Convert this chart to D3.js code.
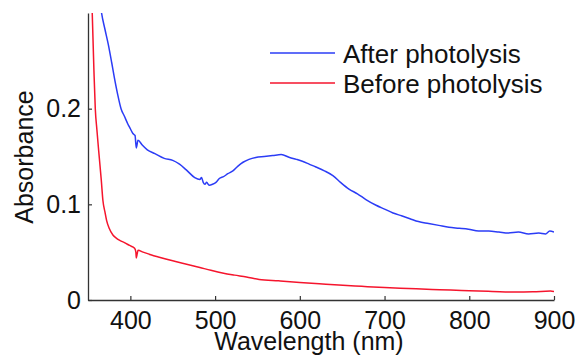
<!DOCTYPE html>
<html>
<head>
<meta charset="utf-8">
<script src="https://cdn.jsdelivr.net/npm/d3@7"></script>
<style>
  body { margin: 0; background: #fff; }
  #chart { width: 579px; height: 362px; }
  text { font-family: "Liberation Sans", Arial, Helvetica, sans-serif; fill: #111; }
</style>
</head>
<body>
<div id="chart"></div>
<script>
// after photolysis (blue)
const afterWl = [362, 366, 370, 374, 378, 381, 385, 389, 393, 397, 400, 403, 405.5, 407, 409, 414, 420, 429, 440, 450, 458, 466, 476,
  482, 484, 486, 488, 490, 493, 497, 501, 505, 510, 515, 521, 527, 533, 540, 548, 558, 568, 578, 588,
  596, 603, 611, 619, 629, 639, 648, 658, 668, 678, 690, 700, 710, 720, 730, 740, 752, 764, 776, 788,
  799, 811, 823, 835, 846, 858, 870, 882, 890, 895, 900];
const afterAbs = [0.33, 0.30, 0.283, 0.267, 0.248, 0.233, 0.215, 0.200, 0.192, 0.184, 0.179, 0.174, 0.172, 0.159, 0.167, 0.162, 0.157, 0.153, 0.148, 0.146, 0.142, 0.136, 0.128,
  0.126, 0.128, 0.123, 0.121, 0.123, 0.120, 0.121, 0.123, 0.127, 0.129, 0.132, 0.135, 0.140, 0.144, 0.147, 0.149, 0.150, 0.151, 0.152, 0.149,
  0.147, 0.145, 0.142, 0.139, 0.135, 0.130, 0.123, 0.116, 0.111, 0.105, 0.099, 0.095, 0.091, 0.088, 0.085, 0.082, 0.080, 0.078, 0.076, 0.075,
  0.074, 0.072, 0.072, 0.071, 0.070, 0.071, 0.069, 0.070, 0.069, 0.072, 0.071];

// before photolysis (red)
const beforeWl = [352, 355, 357, 358.6, 360.5, 362.6, 365.7, 367.6, 370, 372, 375, 379.4, 383, 387, 393, 399, 405, 406.5, 407, 408, 409, 415, 425, 433,
  450, 464, 482, 495, 510, 523, 537, 552, 575, 600, 623, 646, 673, 700, 728, 756, 778, 800, 827, 854,
  875, 896, 900];
const beforeAbs = [0.40, 0.30, 0.24, 0.20, 0.178, 0.156, 0.125, 0.104, 0.092, 0.083, 0.075, 0.068, 0.065, 0.0625, 0.060, 0.057, 0.054, 0.050, 0.044, 0.048, 0.052, 0.050, 0.047, 0.045,
  0.041, 0.038, 0.034, 0.031, 0.028, 0.026, 0.024, 0.0215, 0.020, 0.0184, 0.017, 0.0156, 0.0143, 0.013, 0.012, 0.011, 0.0105, 0.0097, 0.009, 0.0083,
  0.0085, 0.0094, 0.0088];

const xTicks = [400, 500, 600, 700, 800, 900];
const yTicks = [0, 0.1, 0.2];
const seriesNames = ['After photolysis', 'Before photolysis'];
const seriesColors = ['#2b3cf6', '#f5152d'];

const width = 579, height = 362;
const margin = { top: 13, right: 25, bottom: 62, left: 88 };
const plotW = width - margin.left - margin.right;
const plotH = height - margin.top - margin.bottom;

const svg = d3.select('#chart').append('svg')
  .attr('width', width).attr('height', height);

const xScale = d3.scaleLinear().domain([350, 900]).range([0, plotW]);
const yScale = d3.scaleLinear().domain([0, 0.3]).range([plotH, 0]);

const main = svg.append('g').attr('transform', `translate(${margin.left}, ${margin.top})`);

svg.append('defs').append('clipPath').attr('id', 'plotclip')
  .append('rect').attr('width', plotW).attr('height', plotH);

// curves
const line = d3.line()
  .x(d => xScale(d[0]))
  .y(d => yScale(d[1]))
  .curve(d3.curveMonotoneX);

const series = [
  afterWl.map((w, i) => [w, afterAbs[i]]),
  beforeWl.map((w, i) => [w, beforeAbs[i]])
];

const plot = main.append('g').attr('clip-path', 'url(#plotclip)');
series.forEach((s, i) => {
  plot.append('path')
    .datum(s)
    .attr('d', line)
    .attr('fill', 'none')
    .attr('stroke', seriesColors[i])
    .attr('stroke-width', 1.5);
});

// axes
const xAxis = d3.axisBottom(xScale).tickValues(xTicks).tickSizeInner(-4).tickSizeOuter(0).tickPadding(11);
const yAxis = d3.axisLeft(yScale).tickValues(yTicks).tickSizeInner(-4).tickSizeOuter(0).tickPadding(7)
  .tickFormat(d => d === 0 ? '0' : d.toFixed(1));

const gx = main.append('g').attr('transform', `translate(0, ${plotH})`).call(xAxis);
const gy = main.append('g').call(yAxis);

[gx, gy].forEach(g => {
  g.select('.domain').attr('stroke', '#333').attr('stroke-width', 1.3);
  g.selectAll('.tick line').attr('stroke', '#333').attr('stroke-width', 1.2);
  g.selectAll('.tick text')
    .attr('font-family', '"Liberation Sans", Arial, sans-serif')
    .attr('font-size', 25).attr('fill', '#111');
});

// axis titles
svg.append('text')
  .attr('x', margin.left + plotW / 2 - 12)
  .attr('y', 350)
  .attr('text-anchor', 'middle')
  .attr('font-size', 25)
  .text('Wavelength (nm)');

svg.append('text')
  .attr('transform', 'translate(33, 157) rotate(-90)')
  .attr('text-anchor', 'middle')
  .attr('font-size', 25)
  .text('Absorbance');

// legend
const legend = svg.append('g');
seriesNames.forEach((name, i) => {
  const y = 53 + i * 30;
  legend.append('line')
    .attr('x1', 270).attr('x2', 335)
    .attr('y1', y).attr('y2', y)
    .attr('stroke', seriesColors[i]).attr('stroke-width', 1.5);
  legend.append('text')
    .attr('x', 343).attr('y', y + 10)
    .attr('font-size', 26)
    .text(name);
});
</script>
</body>
</html>
